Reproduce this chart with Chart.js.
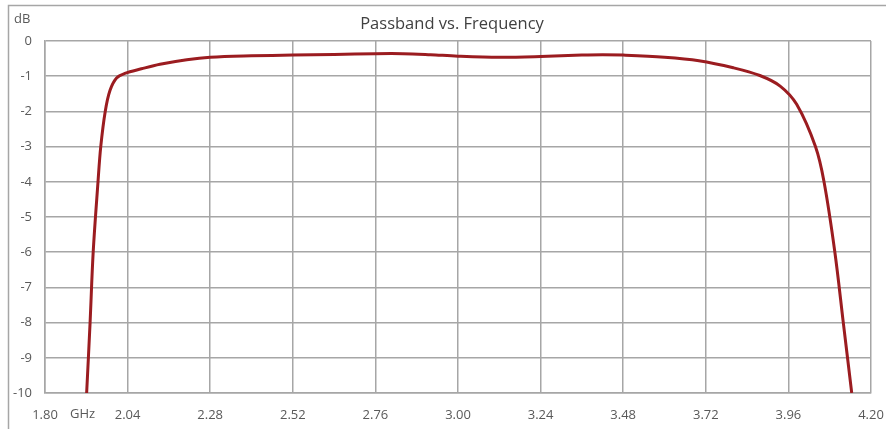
<!DOCTYPE html>
<html>
<head>
<meta charset="utf-8">
<script src="https://cdn.jsdelivr.net/npm/chart.js@4"></script>
<style>
  html, body { margin: 0; padding: 0; background: #fff; }
  #wrap { width: 886px; height: 429px; position: relative; }
</style>
</head>
<body>
<div id="wrap"><canvas id="passbandChart"></canvas></div>
<script>
// frequency (GHz) and insertion loss (dB)
const freqs = [1.921, 1.931, 1.940, 1.954, 1.962, 1.975, 1.989,
  2.008, 2.032, 2.08, 2.134, 2.212, 2.28, 2.40, 2.52, 2.64, 2.76,
  2.84, 2.92, 3.00, 3.12, 3.24, 3.36, 3.42, 3.48, 3.60, 3.70,
  3.80, 3.877, 3.936, 3.984, 4.0386, 4.0635,
  4.095, 4.1195, 4.144];
const lossDb = [-10, -8, -6, -4, -3, -2, -1.4,
  -1.05, -0.92, -0.79, -0.66, -0.53, -0.46, -0.42, -0.40, -0.38, -0.36,
  -0.36, -0.39, -0.43, -0.46, -0.44, -0.40, -0.39, -0.40, -0.46, -0.56,
  -0.76, -0.98, -1.28, -1.80, -3.0, -4,
  -6, -8, -10];

const xTicks = [1.80, 2.04, 2.28, 2.52, 2.76, 3.00, 3.24, 3.48, 3.72, 3.96, 4.20];
const xTickLabels = ["1.80", "2.04", "2.28", "2.52", "2.76", "3.00", "3.24", "3.48", "3.72", "3.96", "4.20"];
const yTicks = [0, -1, -2, -3, -4, -5, -6, -7, -8, -9, -10];
const yTickLabels = ["0", "-1", "-2", "-3", "-4", "-5", "-6", "-7", "-8", "-9", "-10"];

const chartTitle = "Passband vs. Frequency";
const yUnit = "dB";
const xUnit = "GHz";

const FONT = "'Open Sans', 'Noto Sans', sans-serif";
const GRID = "#a6a6a6";

const points = freqs.map((f, i) => ({ x: f, y: lossDb[i] }));

// frame, title and unit labels
const decor = {
  id: "decor",
  beforeDraw(chart) {
    const ctx = chart.ctx;
    ctx.save();
    ctx.strokeStyle = GRID;
    ctx.lineWidth = 1.5;
    ctx.strokeRect(8.5, 5.5, 900, 450);
    ctx.restore();
  },
  afterDraw(chart) {
    const ctx = chart.ctx;
    ctx.save();
    ctx.textBaseline = "middle";
    ctx.fillStyle = "#404040";
    ctx.font = "16.5px " + FONT;
    ctx.textAlign = "center";
    ctx.fillText(chartTitle, 452, 24);
    ctx.fillStyle = "#595959";
    ctx.font = "13px " + FONT;
    ctx.textAlign = "left";
    ctx.fillText(yUnit, 14, 19);
    ctx.fillText(xUnit, 70, 414);
    ctx.restore();
  }
};

new Chart(document.getElementById("passbandChart").getContext("2d"), {
  type: "line",
  data: {
    datasets: [{
      label: "Passband",
      data: points,
      borderColor: "#9b1c20",
      borderWidth: 3,
      pointRadius: 0,
      fill: false,
      tension: 0.35
    }]
  },
  options: {
    responsive: true,
    maintainAspectRatio: false,
    animation: false,
    layout: { padding: { left: 0, top: 41, right: 15, bottom: 0 } },
    plugins: { legend: { display: false }, tooltip: { enabled: false } },
    scales: {
      x: {
        type: "linear",
        min: 1.8,
        max: 4.2,
        afterBuildTicks: s => { s.ticks = xTicks.map(v => ({ value: v })); },
        afterFit: s => { s.height = 36; s.paddingLeft = 0; s.paddingRight = 0; },
        ticks: {
          autoSkip: false,
          maxRotation: 0,
          padding: 14,
          color: "#595959",
          font: { family: FONT, size: 13 },
          callback: (v, i) => xTickLabels[i]
        },
        grid: { color: GRID, lineWidth: 1.5, drawTicks: false },
        border: { color: GRID, width: 1.5 }
      },
      y: {
        min: -10,
        max: 0,
        afterBuildTicks: s => { s.ticks = yTicks.slice().reverse().map(v => ({ value: v })); },
        afterFit: s => { s.width = 45; },
        ticks: {
          padding: 13,
          color: "#595959",
          font: { family: FONT, size: 13 },
          callback: v => yTickLabels[yTicks.indexOf(v)]
        },
        grid: { color: GRID, lineWidth: 1.5, drawTicks: false },
        border: { color: GRID, width: 1.5 }
      }
    }
  },
  plugins: [decor]
});
</script>
</body>
</html>
